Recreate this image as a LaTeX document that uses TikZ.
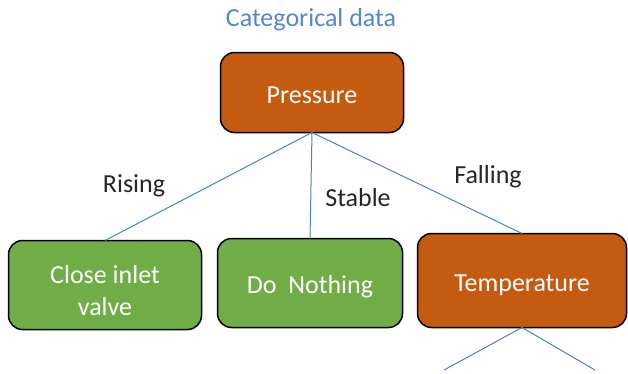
\documentclass[tikz,border=0pt]{standalone}
\usepackage{fontspec}
\setmainfont{Carlito}
\definecolor{boxorange}{HTML}{C55A11}
\definecolor{boxgreen}{HTML}{70AD47}
\definecolor{linkblue}{HTML}{4F7FD0}
\definecolor{titleblue}{HTML}{5486D6}
\definecolor{labelgray}{HTML}{262626}
\begin{document}
\begin{tikzpicture}[x=1pt,y=-1pt,
  box/.style={draw=black, line width=1.5pt, rounded corners=14pt, outer sep=0pt,
    text=white, align=center, font=\fontsize{26}{32}\selectfont, inner sep=2pt,
    text height=21pt, text depth=0pt},
  decision/.style={box, fill=boxorange},
  action/.style={box, fill=boxgreen},
  link/.style={draw=linkblue, line width=1pt},
  branch/.style={text=labelgray, font=\fontsize{26}{30}\selectfont, inner sep=0pt}]
  \useasboundingbox (0,0) rectangle (628,373);

  \node[text=titleblue, font=\fontsize{26}{30}\selectfont] (title) at (311,20) {Categorical data};

  \node[decision, minimum width=183pt, minimum height=80pt] (pressure) at (312,92.5) {Pressure};
  \node[action, minimum width=193pt, minimum height=89pt, text height=60pt] (close) at (105,285) {Close inlet\\valve};
  \node[action, minimum width=185pt, minimum height=89pt] (nothing) at (310,283) {Do~~Nothing};
  \node[decision, minimum width=209pt, minimum height=94pt] (temp) at (522,280.5) {Temperature};

  \coordinate (tl) at (444,370);
  \coordinate (tr) at (595,370);

  \draw[link] (pressure.south) -- (close.north);
  \draw[link] (pressure.south) -- (nothing.north);
  \draw[link] (pressure.south) -- (temp.north);
  \draw[link] (temp.south) -- (tl);
  \draw[link] (temp.south) -- (tr);

  \node[branch] (rising) at (134,186) {Rising};
  \node[branch] (stable) at (358,198) {Stable};
  \node[branch] (falling) at (488,177) {Falling};
\end{tikzpicture}
\end{document}
